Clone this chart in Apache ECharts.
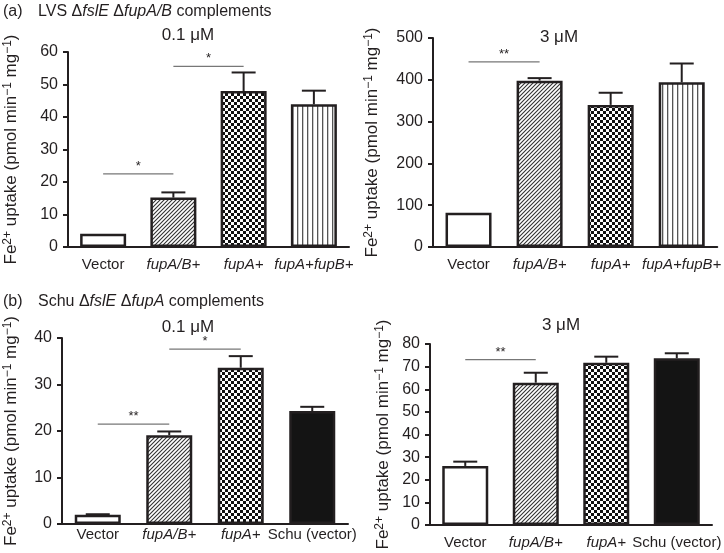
<!DOCTYPE html>
<html>
<head>
<meta charset="utf-8">
<script src="https://cdn.jsdelivr.net/npm/echarts@6/dist/echarts.min.js"></script>
<style>html,body{margin:0;padding:0;background:#fff}#c{width:724px;height:553px}</style>
</head>
<body>
<div id="c"></div>
<script>
// ---- data ----
const catsA = ['Vector', 'fupA/B+', 'fupA+', 'fupA+fupB+'];
const catsB = ['Vector', 'fupA/B+', 'fupA+', 'Schu (vector)'];
const italicCats = ['fupA/B+', 'fupA+', 'fupA+fupB+'];

const aLowMean = [4.1, 15.2, 48.0, 43.9];
const aLowSem  = [0, 1.6, 5.7, 4.2];
const aHighMean = [82, 398, 340, 394];
const aHighSem  = [0, 6, 29, 45];
const bLowMean = [2.0, 19.1, 33.6, 24.3];
const bLowSem  = [0.1, 0.8, 2.5, 0.9];
const bHighMean = [26.1, 62.9, 71.7, 73.7];
const bHighSem  = [1.9, 4.4, 2.7, 2.2];

const aLowSig = [[0, 1, 22.5], [1, 2, 55.6]];
const aLowStars = ['*', '*'];
const aHighSig = [[0, 1, 443]];
const aHighStars = ['**'];
const bLowSig = [[0, 1, 21.5], [1, 2, 37.6]];
const bLowStars = ['**', '*'];
const bHighSig = [[0, 1, 73.1]];
const bHighStars = ['**'];

const yMax = [60, 500, 40, 80];
const yStep = [10, 100, 10, 10];

// ---- patterns ----
function mk(w, h, draw) {
  const c = document.createElement('canvas'); c.width = w; c.height = h;
  const g = c.getContext('2d'); g.fillStyle = '#fff'; g.fillRect(0, 0, w, h); draw(g);
  return { image: c, repeat: 'repeat' };
}
const diag = mk(4, 4, g => {
  g.strokeStyle = '#333'; g.lineWidth = 1.1;
  g.beginPath();
  g.moveTo(0, 4); g.lineTo(4, 0);
  g.moveTo(-1, 1); g.lineTo(1, -1);
  g.moveTo(3, 5); g.lineTo(5, 3);
  g.stroke();
});
const checker = mk(6, 6, g => {
  g.fillStyle = '#111'; g.fillRect(0, 0, 3, 3); g.fillRect(3, 3, 3, 3);
});
const vstripe = mk(5, 2, g => {
  g.fillStyle = '#555'; g.fillRect(2, 0, 1.3, 2);
});
const fillsA = ['#fff', diag, checker, vstripe];
const fillsB = ['#fff', diag, checker, '#141414'];

const FONT = '"Liberation Sans", Arial, sans-serif';
const TXT = '#231f20';

const grids = [
  { left: 68, top: 52, width: 281, height: 195 },
  { left: 433, top: 38, width: 287, height: 209 },
  { left: 62, top: 338, width: 286, height: 186 },
  { left: 430, top: 344, width: 285, height: 181 }
];
const nameGaps = [47, 51, 41, 37];
const labelMargins = [10, 10, 3, 10];

const panels = [
  { cats: catsA, mean: aLowMean, sem: aLowSem, sig: aLowSig, stars: aLowStars, fills: fillsA },
  { cats: catsA, mean: aHighMean, sem: aHighSem, sig: aHighSig, stars: aHighStars, fills: fillsA },
  { cats: catsB, mean: bLowMean, sem: bLowSem, sig: bLowSig, stars: bLowStars, fills: fillsB },
  { cats: catsB, mean: bHighMean, sem: bHighSem, sig: bHighSig, stars: bHighStars, fills: fillsB }
];

const xAxes = [], yAxes = [], series = [];
panels.forEach((p, k) => {
  xAxes.push({
    type: 'category', gridIndex: k, data: p.cats,
    axisLine: { lineStyle: { color: TXT, width: 2 } },
    axisTick: { alignWithLabel: true, length: 6, lineStyle: { color: TXT, width: 2 } },
    axisLabel: {
      margin: labelMargins[k], color: TXT, fontSize: 15, fontFamily: FONT, interval: 0,
      formatter: v => italicCats.includes(v) ? '{i|' + v + '}' : v,
      rich: { i: { fontStyle: 'italic', fontSize: 15, fontFamily: FONT, color: TXT } }
    }
  });
  yAxes.push({
    type: 'value', gridIndex: k, min: 0, max: yMax[k], interval: yStep[k],
    splitLine: { show: false },
    axisLine: { show: true, lineStyle: { color: TXT, width: 2 } },
    axisTick: { show: true, length: 5, lineStyle: { color: TXT, width: 2 } },
    axisLabel: { margin: 10, color: TXT, fontSize: 16, fontFamily: FONT },
    name: '{n|Fe}{s|2+}{n| uptake (pmol min}{s|\u22121}{n| mg}{s|\u22121}{n|)}',
    nameLocation: 'middle', nameGap: nameGaps[k],
    nameTextStyle: {
      color: TXT, fontFamily: FONT, fontSize: 17,
      rich: {
        n: { fontSize: 17, fontFamily: FONT, color: TXT, lineHeight: 19 },
        s: { fontSize: 12, fontFamily: FONT, color: TXT, verticalAlign: 'top', lineHeight: 12 }
      }
    }
  });
  series.push({
    type: 'bar', xAxisIndex: k, yAxisIndex: k, barWidth: 46,
    data: p.mean.map((v, i) => ({ value: v, itemStyle: { color: p.fills[i] } })),
    itemStyle: { borderColor: TXT, borderWidth: 2.5 },
    z: 2, silent: true
  });
  series.push({
    type: 'custom', xAxisIndex: k, yAxisIndex: k, z: 3, silent: true,
    data: p.mean.map((v, i) => [i, v, p.sem[i]]),
    encode: { x: 0, y: 1 },
    renderItem: (params, api) => {
      const x = api.value(0), m = api.value(1), s = api.value(2);
      if (!(s > 0)) return null;
      const p0 = api.coord([x, m]), p1 = api.coord([x, m + s]);
      const hw = 12;
      return { type: 'group', children: [
        { type: 'line', shape: { x1: p0[0], y1: p0[1], x2: p1[0], y2: p1[1] }, style: { stroke: TXT, lineWidth: 2 } },
        { type: 'line', shape: { x1: p1[0] - hw, y1: p1[1], x2: p1[0] + hw, y2: p1[1] }, style: { stroke: TXT, lineWidth: 2 } }
      ] };
    }
  });
  series.push({
    type: 'custom', xAxisIndex: k, yAxisIndex: k, z: 3, silent: true,
    data: p.sig.map(d => d.slice()),
    encode: { x: [0, 1], y: 2 },
    renderItem: (params, api) => {
      const a = api.coord([api.value(0), api.value(2)]);
      const b = api.coord([api.value(1), api.value(2)]);
      return { type: 'group', children: [
        { type: 'line', shape: { x1: a[0], y1: a[1], x2: b[0], y2: b[1] }, style: { stroke: '#777', lineWidth: 1.2 } },
        { type: 'text', style: { text: p.stars[params.dataIndex], x: (a[0] + b[0]) / 2, y: a[1] - 1,
          align: 'center', verticalAlign: 'bottom', fontSize: 13, fontFamily: FONT, fill: TXT } }
      ] };
    }
  });
});

const headRich = {
  n: { fontSize: 16, fontFamily: FONT, color: TXT },
  i: { fontSize: 16, fontFamily: FONT, fontStyle: 'italic', color: TXT }
};
function txt(t, x, y, align, rich, size) {
  return { type: 'text', x: x, y: y, silent: true,
    style: { text: t, align: align, verticalAlign: 'middle', fontSize: size || 16, fontFamily: FONT, fill: TXT, rich: rich } };
}

const chart = echarts.init(document.getElementById('c'), null, { renderer: 'canvas' });
chart.setOption({
  animation: false,
  backgroundColor: '#fff',
  grid: grids,
  xAxis: xAxes,
  yAxis: yAxes,
  series: series,
  graphic: [
    txt('(a)', 3, 12, 'left'),
    txt('{n|LVS \u0394}{i|fslE}{n| \u0394}{i|fupA/B}{n| complements}', 38, 12, 'left', headRich),
    txt('0.1 \u03bcM', 188, 35, 'center', null, 17),
    txt('3 \u03bcM', 559, 37, 'center', null, 17),
    txt('(b)', 3, 302, 'left'),
    txt('{n|Schu \u0394}{i|fslE}{n| \u0394}{i|fupA}{n| complements}', 38, 302, 'left', headRich),
    txt('0.1 \u03bcM', 188, 327, 'center', null, 17),
    txt('3 \u03bcM', 561, 325, 'center', null, 17)
  ]
});
</script>
</body>
</html>
